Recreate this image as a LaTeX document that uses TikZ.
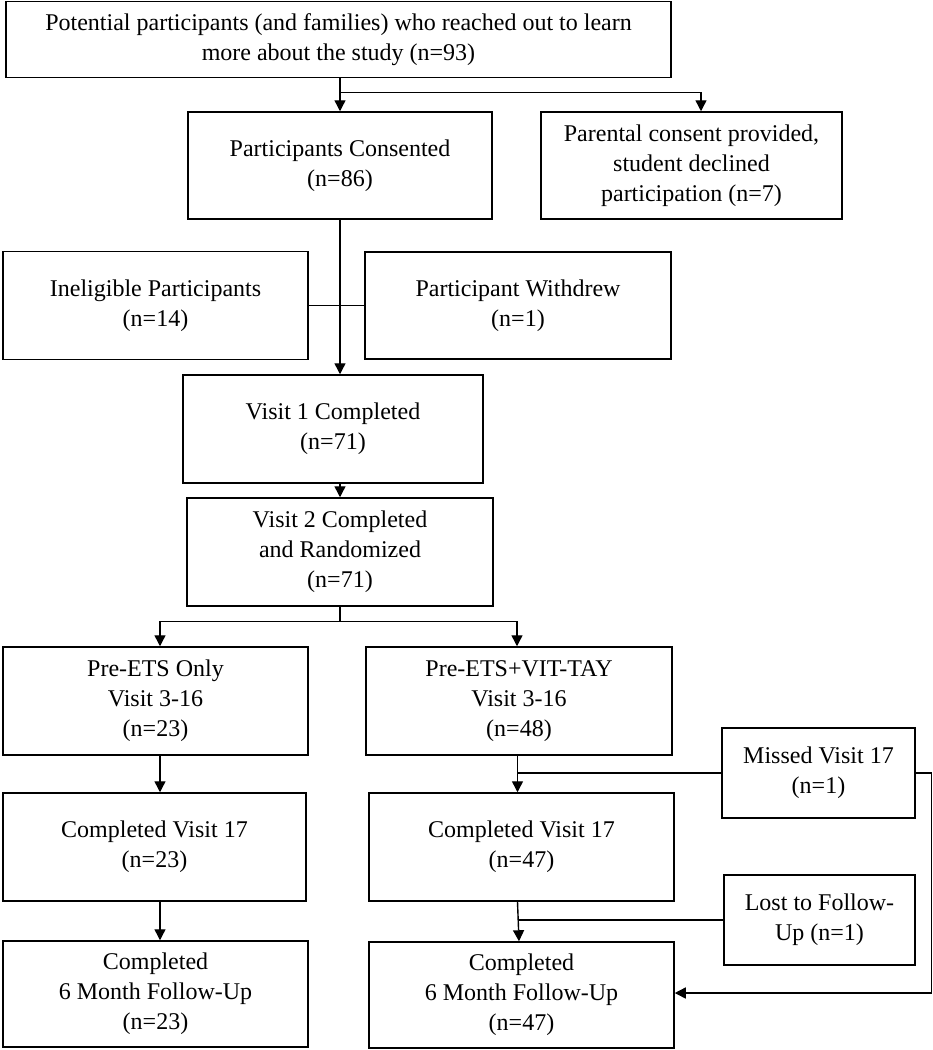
\documentclass[tikz,border=0pt]{standalone}
\usepackage{fontspec}
\setmainfont{Liberation Serif}
\usetikzlibrary{arrows.meta,calc}
\begin{document}
\begin{tikzpicture}[x=1pt,y=-1pt,
  box/.style={draw=black,line width=1.5pt,align=center,inner sep=2pt,
    font=\fontsize{24}{30}\selectfont},
  line/.style={draw=black,line width=1.4pt},
  arr/.style={line,-{Triangle[width=11pt,length=11pt]}}]
\useasboundingbox (0,0) rectangle (933,1050);
% boxes
\node[box,minimum width=665pt,minimum height=76pt] (top) at (338.5,39.5)
  {Potential participants (and families) who reached out to learn\\more about the study (n=93)};
\node[box,minimum width=304pt,minimum height=107pt] (cons) at (340,165.5)
  {Participants Consented\\(n=86)};
\node[box,minimum width=301pt,minimum height=107pt] (parent) at (691.5,165.5)
  {Parental consent provided,\\student declined\\participation (n=7)};
\node[box,minimum width=305pt,minimum height=108pt] (inel) at (155.5,305.5)
  {Ineligible Participants\\(n=14)};
\node[box,minimum width=306pt,minimum height=107pt] (withd) at (518,305.5)
  {Participant Withdrew\\(n=1)};
\node[box,minimum width=300pt,minimum height=108pt] (v1) at (333,429)
  {Visit 1 Completed\\(n=71)};
\node[box,minimum width=306pt,minimum height=108pt] (v2) at (340,552)
  {Visit 2 Completed\\and Randomized\\(n=71)};
\node[box,minimum width=305pt,minimum height=108pt] (pre1) at (155.5,701)
  {Pre-ETS Only\\Visit 3-16\\(n=23)};
\node[box,minimum width=306pt,minimum height=108pt] (pre2) at (519,701)
  {Pre-ETS+VIT-TAY\\Visit 3-16\\(n=48)};
\node[box,minimum width=193pt,minimum height=90pt] (missed) at (818.5,773)
  {Missed Visit 17\\(n=1)};
\node[box,minimum width=303pt,minimum height=108pt] (c17a) at (154.5,847)
  {Completed Visit 17\\(n=23)};
\node[box,minimum width=305pt,minimum height=108pt] (c17b) at (521.5,847)
  {Completed Visit 17\\(n=47)};
\node[box,minimum width=191pt,minimum height=90pt] (lost) at (819.5,920)
  {Lost to Follow-\\Up (n=1)};
\node[box,minimum width=305pt,minimum height=106pt] (m6a) at (155.5,994)
  {Completed\\6 Month Follow-Up\\(n=23)};
\node[box,minimum width=305pt,minimum height=106pt] (m6b) at (521.5,995)
  {Completed\\6 Month Follow-Up\\(n=47)};
% junction coordinates
\coordinate (j1) at ($(top.south -| cons.north)+(0,14)$);
\coordinate (pin) at ([xshift=9.5pt]parent.north);
\coordinate (a1) at (cons.south);
\coordinate (b1) at (v1.north -| cons.south);
\coordinate (a2) at (v1.south -| cons.south);
\coordinate (b2) at (v2.north);
\coordinate (j2) at ($(v2.south)+(0,15)$);
\coordinate (p1in) at ([xshift=4.5pt]pre1.north);
\coordinate (p2in) at ([xshift=-2pt]pre2.north);
\coordinate (c1out) at ([xshift=5.5pt]c17a.south);
\coordinate (c1in) at ([xshift=5.5pt]c17a.north);
\coordinate (c2out) at ([xshift=-4pt]c17b.south);
\coordinate (c2in) at ([xshift=-4pt]c17b.north);
\coordinate (m1in) at ([xshift=4.5pt]m6a.north);
\coordinate (m2in) at ([xshift=-2.5pt]m6b.north);
\coordinate (rc) at ($(missed.east)+(16,0)$);
\coordinate (m6in) at ([yshift=2pt]m6b.east);
% connectors
\draw[arr] (top.south -| cons.north) -- (cons.north);
\draw[arr] (j1) -| (pin);
\draw[arr] (a1) -- (b1);
\draw[line] (inel.east) -- (withd.west);
\draw[arr] (a2) -- (b2);
\draw[line] (v2.south) -- (j2);
\draw[arr] (j2) -| (p1in);
\draw[arr] (j2) -| (p2in);
\draw[arr] (pre1.south -| c1in) -- (c1in);
\draw[arr] (pre2.south -| c2in) -- (c2in);
\draw[line] (missed.west) -- (missed.west -| c2in);
\draw[arr] (c1out) -- (m1in);
\draw[arr] (c2out) -- (m2in);
\draw[line] (lost.west) -- (lost.west -| m2in);
\draw[arr] (missed.east) -- (rc) |- (m6in);
\end{tikzpicture}
\end{document}
